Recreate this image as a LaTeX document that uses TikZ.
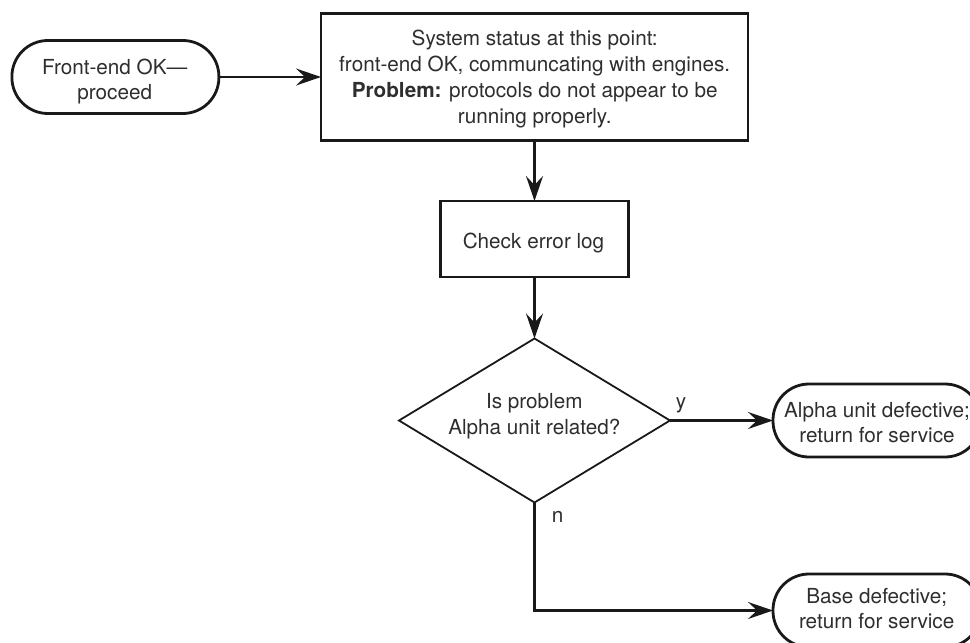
\documentclass[tikz,border=0pt]{standalone}
\usepackage{fontspec}
\setmainfont{TeX Gyre Heros}
\usetikzlibrary{arrows.meta,shapes.geometric,calc}
\begin{document}
\begin{tikzpicture}[x=1pt,y=-1pt,
  boxline/.style={draw=black!90, line width=2.1pt, inner sep=0pt, outer sep=0pt},
  termbox/.style={draw=black!90, line width=2.8pt, rounded corners=36pt, minimum height=73pt, inner sep=0pt, outer sep=0pt},
  decbox/.style={diamond, draw=black!90, line width=1.8pt, minimum width=271pt, minimum height=164pt, inner sep=0pt, outer sep=0pt},
  txt/.style={align=center, inner sep=0pt, text=black!82, font=\fontsize{20.7}{25}\selectfont},
  txtwide/.style={txt, font=\fontsize{20.7}{26}\selectfont},
  lbl/.style={anchor=base, inner sep=0pt, text=black!82, font=\fontsize{20.7}{25}\selectfont},
  arr/.style={draw=black!90, line width=2.1pt, -{Stealth[length=25pt,width=17pt,inset=9pt]}}
]
\useasboundingbox (0,0) rectangle (970,643);
\clip (0,0) rectangle (970,643);

% shapes
\node[termbox, minimum width=207pt] (t1) at (115.4,77) {};
\node[boxline, minimum width=427pt, minimum height=127pt] (b1) at (534.5,77) {};
\node[boxline, minimum width=188pt, minimum height=76pt] (c) at (534.5,239) {};
\node[decbox] (d) at (534.5,420.5) {};
\node[termbox, minimum width=208pt] (a) at (877,420.5) {};
\node[termbox, minimum width=208pt] (e) at (877,610.5) {};

% texts
\node[txt] (t1t) at (114.7,81.4) {Front-end OK—\\proceed};
\node[txtwide] (b1t) at (534.7,79.5) {System status at this point:\\front-end OK, communcating with engines.\\\textbf{Problem:} protocols do not appear to be\\running properly.};
\node[txt] (ct) at (533.5,243) {Check error log};
\node[txtwide] (dt) at (534.3,416.2) {Is problem\\Alpha unit related?};
\node[txt] (at) at (877,423) {Alpha unit defective;\\return for service};
\node[txt] (et) at (876.7,609) {Base defective;\\return for service};
\node[lbl] (ylbl) at (681,408) {y};
\node[lbl] (nlbl) at (557.6,522.7) {n};

% connectors
\draw[arr] (t1.east) -- (b1.west);
\draw[arr] (b1.south) -- (c.north);
\draw[arr] (c.south) -- (d.north);
\draw[arr] (d.east) -- (a.west);
\draw[arr] (d.south) |- (e.west);
\end{tikzpicture}
\end{document}
